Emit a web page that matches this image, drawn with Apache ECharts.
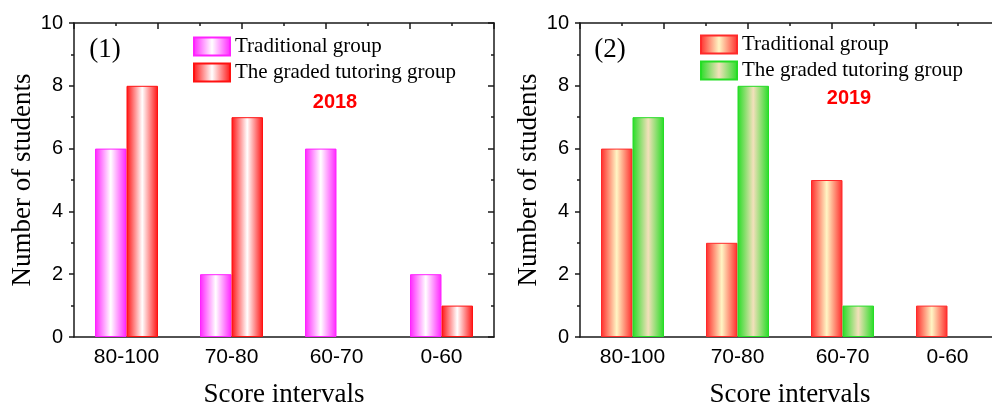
<!DOCTYPE html>
<html>
<head>
<meta charset="utf-8">
<script src="https://cdn.jsdelivr.net/npm/echarts@6/dist/echarts.min.js"></script>
<style>
  html, body { margin: 0; padding: 0; background: #fff; }
  #chart { width: 992px; height: 404px; }
</style>
</head>
<body>
<div id="chart"></div>
<script>
const categories = ['80-100', '70-80', '60-70', '0-60']
const trad2018 = [6, 2, 6, 2]
const graded2018 = [8, 7, 0, 1]
const trad2019 = [6, 3, 5, 1]
const graded2019 = [7, 8, 1, 0]
const yTicks = { min: 0, max: 10, interval: 2 }
const legendNames = {
  t18: 'Traditional group',
  g18: 'The graded tutoring group',
  t19: 'Traditional group',
  g19: 'The graded tutoring group'
}

const lineStyle = { color: '#1a1a1a', width: 1.5 }
const serif = 'Liberation Serif, Times New Roman, serif'
const sans = 'Liberation Sans, Arial, sans-serif'

function grad(edge, mid) {
  return new echarts.graphic.LinearGradient(0, 0, 1, 0, [
    { offset: 0, color: edge },
    { offset: 0.5, color: mid },
    { offset: 1, color: edge }
  ])
}

function axesFor(gi) {
  const x = [
    {
      type: 'category', gridIndex: gi, data: categories, position: 'bottom',
      axisLine: { lineStyle: lineStyle },
      axisTick: { alignWithLabel: true, length: 6, lineStyle: lineStyle },
      axisLabel: { fontSize: 21, color: '#000', fontFamily: sans, margin: 10 },
      name: 'Score intervals', nameLocation: 'middle', nameGap: 44,
      nameTextStyle: { fontSize: 27, fontFamily: serif, color: '#000' }
    },
    {
      type: 'category', gridIndex: gi, data: categories, position: 'bottom',
      axisLine: { show: false },
      axisTick: { length: 3, lineStyle: lineStyle },
      axisLabel: { show: false }
    },
    {
      type: 'value', gridIndex: gi, position: 'top', min: 0, max: 10, interval: 2,
      axisLine: { show: true, lineStyle: lineStyle },
      axisTick: { inside: true, length: 6, lineStyle: lineStyle },
      minorTick: { show: true, splitNumber: 2, length: 3, lineStyle: lineStyle },
      axisLabel: { show: false },
      splitLine: { show: false }
    }
  ]
  const y = [
    {
      type: 'value', gridIndex: gi, position: 'left', ...yTicks,
      axisLine: { show: true, lineStyle: lineStyle },
      axisTick: { length: 5, lineStyle: lineStyle },
      minorTick: { show: true, splitNumber: 2, length: 3, lineStyle: lineStyle },
      axisLabel: { fontSize: 20, color: '#000', fontFamily: sans, margin: 11 },
      splitLine: { show: false },
      name: 'Number of students', nameLocation: 'middle', nameGap: 36,
      nameTextStyle: { fontSize: 27, fontFamily: serif, color: '#000' }
    },
    {
      type: 'value', gridIndex: gi, position: 'right', ...yTicks,
      axisLine: { show: true, lineStyle: lineStyle },
      axisTick: { inside: true, length: 6, lineStyle: lineStyle },
      minorTick: { show: true, splitNumber: 2, length: 3, lineStyle: lineStyle },
      axisLabel: { show: false },
      splitLine: { show: false }
    }
  ]
  return { x, y }
}

const a0 = axesFor(0)
const a1 = axesFor(1)

function barSeries(id, data, xi, yi, edge, mid) {
  return {
    name: id, type: 'bar',
    // a zero count draws no outline
    data: data.map(v => (v === 0 ? { value: v, itemStyle: { borderWidth: 0, opacity: 0 } } : v)),
    xAxisIndex: xi, yAxisIndex: yi,
    barWidth: '30%', barGap: '0%',
    itemStyle: { color: grad(edge, mid), borderColor: edge, borderWidth: 1 }
  }
}

const legendCommon = {
  orient: 'vertical', itemWidth: 36, itemHeight: 18, itemGap: 5, icon: 'rect',
  padding: 0,
  textStyle: { fontSize: 21, fontFamily: serif, color: '#000' },
  formatter: n => legendNames[n],
  selectedMode: false
}

const option = {
  animation: false,
  grid: [
    { left: 74, top: 23, width: 420, height: 314, outerBoundsMode: 'none', containLabel: false },
    { left: 580, top: 23, width: 420, height: 314, outerBoundsMode: 'none', containLabel: false }
  ],
  legend: [
    { ...legendCommon, left: 193, top: 36, data: ['t18', 'g18'] },
    { ...legendCommon, left: 700, top: 34, data: ['t19', 'g19'] }
  ],
  xAxis: [...a0.x, ...a1.x],
  yAxis: [...a0.y, ...a1.y],
  series: [
    barSeries('t18', trad2018, 0, 0, '#ff22ff', '#ffffff'),
    barSeries('g18', graded2018, 0, 0, '#ff1111', '#ffffff'),
    barSeries('t19', trad2019, 3, 2, '#ff2a2a', '#fff6c4'),
    barSeries('g19', graded2019, 3, 2, '#25dd25', '#f3e0bb')
  ],
  graphic: [
    { type: 'text', style: { text: '(1)', x: 105, y: 50, align: 'center', verticalAlign: 'middle', fontSize: 27, fontFamily: serif, fill: '#000' } },
    { type: 'text', style: { text: '2018', x: 335, y: 102, align: 'center', verticalAlign: 'middle', fontSize: 20, fontWeight: 'bold', fontFamily: sans, fill: '#ff0000' } },
    { type: 'text', style: { text: '(2)', x: 610, y: 50, align: 'center', verticalAlign: 'middle', fontSize: 27, fontFamily: serif, fill: '#000' } },
    { type: 'text', style: { text: '2019', x: 849, y: 98, align: 'center', verticalAlign: 'middle', fontSize: 20, fontWeight: 'bold', fontFamily: sans, fill: '#ff0000' } }
  ]
}

const chart = echarts.init(document.getElementById('chart'), null, { renderer: 'canvas' })
chart.setOption(option)
</script>
</body>
</html>
